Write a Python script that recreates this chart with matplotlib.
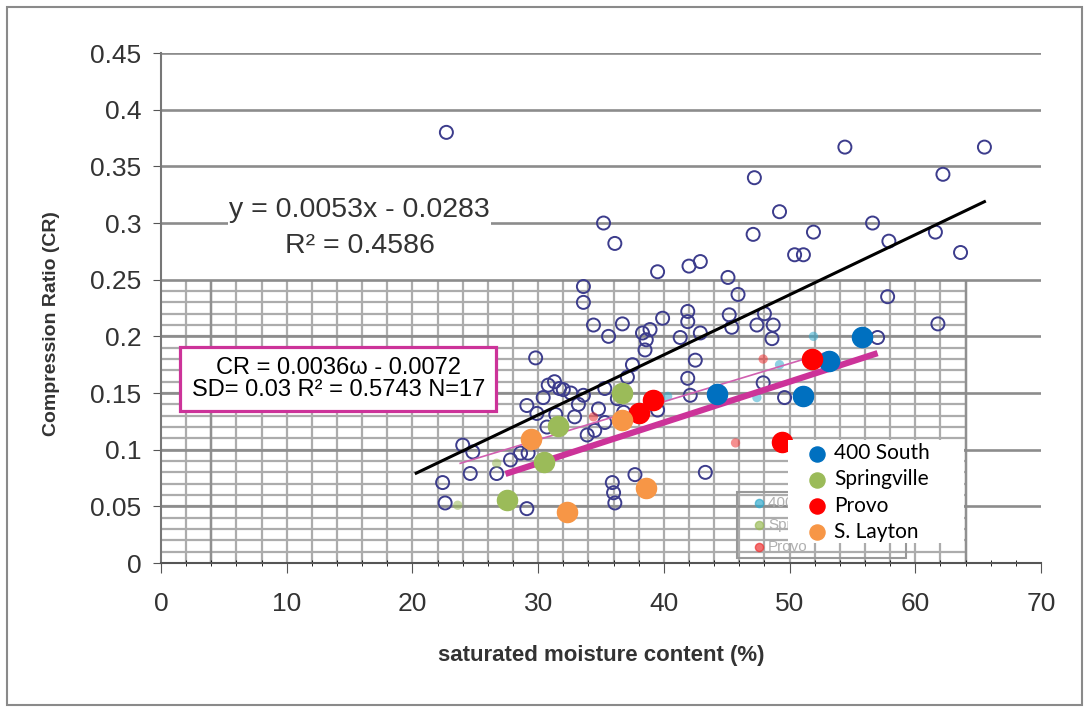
import numpy as np
import matplotlib.pyplot as plt
from matplotlib.patches import Rectangle

plt.rcParams['font.family'] = ['Liberation Sans', 'DejaVu Sans']

# all samples (open circles)
all_w = [22.7, 35.2, 36.1, 54.4, 65.5, 62.2, 47.2, 47.1, 49.2, 51.9,
         56.6, 57.9, 61.6, 63.6, 50.4, 51.1, 39.5, 42.0, 42.9, 45.1,
         45.9, 33.6, 33.6, 57.8, 61.8, 39.9, 41.9, 41.9, 45.2, 45.4,
         48.0, 36.7, 34.4, 35.6, 29.8, 38.3, 38.9, 38.6, 38.5, 41.3,
         42.5, 41.9, 42.1, 42.9, 47.4, 48.7, 48.6, 47.9, 49.6, 57.0,
         32.0, 31.3, 32.9, 34.5, 35.3, 39.5, 37.7, 35.9, 36.0, 36.1,
         43.3, 24.0, 24.8, 28.6, 29.2, 24.6, 26.7, 22.4, 22.6, 29.1,
         29.1, 29.9, 30.7, 33.9, 27.8, 37.5, 37.1, 30.8, 31.7, 33.6,
         35.3, 36.3, 33.2, 30.4, 31.4, 34.8, 36.8, 32.6]
all_cr = [0.380, 0.300, 0.282, 0.367, 0.367, 0.343, 0.340, 0.290, 0.310, 0.292,
          0.300, 0.284, 0.292, 0.274, 0.272, 0.272, 0.257, 0.262, 0.266, 0.252,
          0.237, 0.244, 0.230, 0.235, 0.211, 0.216, 0.222, 0.213, 0.219, 0.208,
          0.220, 0.211, 0.210, 0.200, 0.181, 0.203, 0.206, 0.197, 0.188, 0.199,
          0.179, 0.163, 0.148, 0.203, 0.210, 0.210, 0.198, 0.159, 0.146, 0.199,
          0.153, 0.160, 0.129, 0.117, 0.124, 0.135, 0.078, 0.071, 0.062, 0.053,
          0.080, 0.104, 0.098, 0.097, 0.097, 0.079, 0.079, 0.071, 0.053, 0.048,
          0.139, 0.132, 0.120, 0.113, 0.091, 0.175, 0.164, 0.157, 0.154, 0.148,
          0.154, 0.145, 0.140, 0.146, 0.131, 0.136, 0.133, 0.150]

# sites (filled circles)
south_w = [55.8, 53.1, 44.2, 51.1]
south_cr = [0.199, 0.178, 0.149, 0.147]
spring_w = [36.7, 31.6, 30.5, 27.5]
spring_cr = [0.150, 0.121, 0.089, 0.056]
provo_w = [51.8, 39.1, 38.0, 49.4]
provo_cr = [0.180, 0.144, 0.132, 0.107]
layton_w = [36.7, 29.4, 38.6, 32.3]
layton_cr = [0.126, 0.109, 0.066, 0.045]

# faded markers left from the older chart
ghost_w = [51.9, 49.2, 47.4, 40.3, 47.9, 45.7, 34.4, 26.7, 23.6]
ghost_cr = [0.200, 0.175, 0.146, 0.147, 0.180, 0.106, 0.129, 0.088, 0.051]
ghost_c = ['#33aacc', '#33aacc', '#33aacc', '#33aacc', '#ee3333', '#ee3333',
           '#ee3333', '#9bbb59', '#9bbb59']

# fits: slope, intercept, x range
all_fit = (0.0053, -0.0283)
all_fit_x = [20.3, 65.5]
site_fit = (0.0036, -0.0200)
site_fit_x = [27.4, 57.0]
old_fit = (0.00336, 0.008)
old_fit_x = [23.8, 53.0]

xticks = [0, 10, 20, 30, 40, 50, 60, 70]
yticks = [0, 0.05, 0.1, 0.15, 0.2, 0.25, 0.3, 0.35, 0.4, 0.45]
ytick_labels = ['0', '0.05', '0.1', '0.15', '0.2', '0.25', '0.3', '0.35', '0.4', '0.45']

fig = plt.figure(figsize=(10.88, 7.10), dpi=100)
ax = fig.add_axes([0.148, 0.207, 0.8088, 0.7183])
fig.add_artist(Rectangle((7/1088, 5/710), 1075/1088, 698/710, transform=fig.transFigure,
                         fill=False, ec='#8a8a8a', lw=1.5))

ax.set_xlim(0, 70)
ax.set_ylim(0, 0.45)

# fine grid in the lower part
ax.hlines(np.arange(0.01, 0.25, 0.01), 0, 64, color='#acacac', lw=1.6, zorder=0.4)
ax.vlines(np.arange(2, 65, 2), 0, 0.25, color='#acacac', lw=1.6, zorder=0.4)
ax.vlines([4, 64], 0, 0.25, color='#909090', lw=1.7, zorder=0.45)

ax.set_axisbelow(True)
ax.grid(axis='y', color='#8c8c8c', lw=1.9)
ax.grid(axis='x', visible=False)

ax.set_xticks(xticks)
ax.set_xticks(np.arange(0, 71, 2), minor=True)
ax.set_yticks(yticks)
ax.set_yticklabels(ytick_labels)
ax.tick_params(axis='both', colors='#555555', labelcolor='#333333', labelsize=19)
ax.tick_params(axis='y', length=6, pad=8)
ax.tick_params(axis='x', length=7, pad=14)
ax.tick_params(axis='x', which='minor', length=4, direction='inout')
for s in ['top', 'right']:
    ax.spines[s].set_visible(False)
ax.spines['left'].set_color('#777777')
ax.spines['left'].set_linewidth(1.5)
ax.spines['bottom'].set_color('#555555')
ax.spines['bottom'].set_linewidth(1.5)

ax.set_xlabel('saturated moisture content (%)', fontsize=16, fontweight='bold', color='#333333')
ax.set_ylabel('Compression Ratio (CR)', fontsize=14, fontweight='bold', color='#333333')
ax.xaxis.set_label_coords(0.5, -0.16)
ax.yaxis.set_label_coords(-0.115, 0.47)

# old chart pieces
ax.scatter(all_w, all_cr, s=88, facecolors='none', edgecolors='#3c3c8c', linewidths=1.4, zorder=2)
ax.scatter(ghost_w, ghost_cr, s=45, c=ghost_c, alpha=0.55, edgecolors='none', zorder=2.2)
xo = np.array(old_fit_x)
ax.plot(xo, old_fit[0] * xo + old_fit[1], color='#d060b0', lw=1.2, zorder=2.5)
xa = np.array(all_fit_x)
ax.plot(xa, all_fit[0] * xa + all_fit[1], color='black', lw=2.2, zorder=3)
ax.text(15.8, 0.2955, 'y = 0.0053x - 0.0283\nR² = 0.4586', ha='center', va='center',
        fontsize=20.5, color='#333333', linespacing=1.5, zorder=3,
        bbox=dict(facecolor='white', edgecolor='none', pad=1))

# ghost legend box of the old chart
ax.add_patch(Rectangle((0.6545, 0.0098), 0.192, 0.129, transform=ax.transAxes,
                       fill=False, ec='#999999', lw=1.5, zorder=1.5))
for yy, col, lab in [(0.118, '#33aacc', '400 South'), (0.075, '#9bbb59', 'Springville'),
                     (0.031, '#ee3333', 'Provo')]:
    ax.scatter([0.679], [yy], transform=ax.transAxes, s=35, color=col, alpha=0.7, zorder=1.6)
    ax.text(0.69, yy, lab, transform=ax.transAxes, fontsize=11, color='#b0b0b0',
            va='center', zorder=1.6)

# new site data
xs = np.array(site_fit_x)
ax.plot(xs, site_fit[0] * xs + site_fit[1], color='#cc3399', lw=4.5, solid_capstyle='butt', zorder=3.5)
h1 = ax.scatter(south_w, south_cr, s=210, color='#0070c0', zorder=4, label='400 South')
h2 = ax.scatter(spring_w, spring_cr, s=210, color='#9bbb59', zorder=4, label='Springville')
h3 = ax.scatter(provo_w, provo_cr, s=210, color='#ff0000', zorder=4, label='Provo')
h4 = ax.scatter(layton_w, layton_cr, s=210, color='#f79646', zorder=4, label='S. Layton')

ax.add_patch(Rectangle(((788 - 161) / 880, (563 - 543) / 510), 176 / 880, 103 / 510,
                       transform=ax.transAxes, facecolor='white', edgecolor='none', zorder=5))
leg = ax.legend(handles=[h1, h2, h3, h4], loc='upper left',
                bbox_to_anchor=((806 - 161) / 880, (563 - 441) / 510), borderaxespad=0,
                frameon=False, prop={'family': 'Lato', 'size': 15}, handlelength=0.9,
                handletextpad=0.35, labelspacing=0.3, borderpad=0.1, markerscale=0.75)
leg.set_zorder(6)

# fit box for the sites
ax.add_patch(Rectangle(((180 - 161) / 880, (563 - 411) / 510), 316 / 880, 64 / 510,
                       transform=ax.transAxes, facecolor='white', edgecolor='#cc3399',
                       lw=2.3, zorder=5))
ax.text(14.1, 0.1624, 'CR = 0.0036ω - 0.0072\nSD= 0.03 R² = 0.5743 N=17', ha='center',
        va='center', fontsize=17, color='black', linespacing=1.05, zorder=6)

fig.savefig('out.png', dpi=100)
